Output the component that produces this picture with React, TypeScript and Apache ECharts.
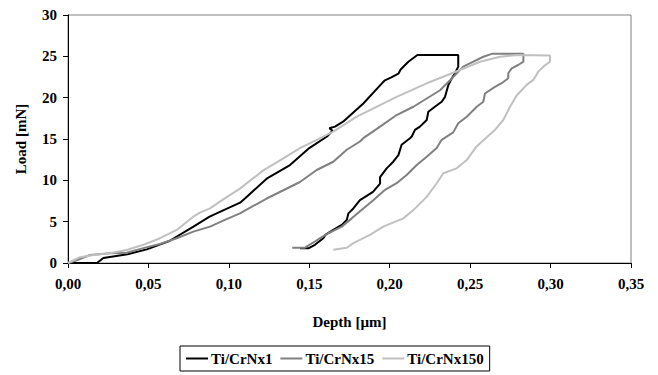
import React, { useEffect, useRef } from "react";
import * as echarts from "echarts";

const seriesNames = ["Ti/CrNx1", "Ti/CrNx15", "Ti/CrNx150"];
const seriesColors = ["#000000", "#808080", "#c0c0c0"];

const depth1 = [0, 0.018, 0.022, 0.025, 0.037, 0.049, 0.063, 0.078, 0.088, 0.107, 0.11, 0.1235, 0.138, 0.15, 0.161, 0.1645, 0.1625, 0.166, 0.171, 0.1836, 0.195, 0.197, 0.201, 0.2054, 0.2068, 0.2116, 0.2172, 0.2426,
  0.2426, 0.2406, 0.2385, 0.2364, 0.2344, 0.2323, 0.2281, 0.224, 0.223, 0.2188, 0.2157, 0.2137, 0.2126, 0.2074, 0.2054, 0.2022, 0.1981, 0.194, 0.194, 0.1896, 0.1815, 0.1774, 0.1743, 0.1733, 0.1702, 0.1649, 0.16, 0.1587, 0.1535, 0.1494, 0.1442];
const load1 = [0, 0, 0.6, 0.7, 1.05, 1.65, 2.66, 4.4, 5.6, 7.3, 7.8, 10.2, 11.85, 13.9, 15.3, 16.0, 16.3, 16.5, 17.1, 19.3, 21.7, 22.1, 22.45, 22.9, 23.4, 24.35, 25.16, 25.16,
  23.75, 22.95, 22.3, 21.5, 20.1, 19.5, 18.9, 18.3, 17.3, 16.5, 16.1, 15.3, 15.1, 14.3, 13.05, 12.25, 11.45, 10.4, 9.6, 8.6, 7.6, 6.6, 6.0, 5.2, 4.6, 4.0, 3.4, 3.0, 2.2, 1.78, 1.78];

const depth15 = [0, 0.005, 0.0137, 0.0261, 0.0365, 0.0468, 0.0572, 0.0676, 0.0779, 0.0883, 0.0986, 0.1069, 0.1235, 0.1339, 0.1442, 0.1546, 0.1649, 0.1733, 0.1815, 0.1836, 0.194, 0.2043, 0.2147, 0.223, 0.2313, 0.2375, 0.2457, 0.252, 0.2582, 0.2634, 0.2831,
  0.2831, 0.2799, 0.2758, 0.2737, 0.2737, 0.2696, 0.2654, 0.2592, 0.2582, 0.2541, 0.2479, 0.2426, 0.2395, 0.2323, 0.2292, 0.223, 0.2168, 0.2105, 0.2043, 0.1971, 0.1898, 0.1836, 0.1764, 0.1702, 0.1618, 0.1567, 0.1535, 0.1473, 0.1394];
const load15 = [0, 0.3, 0.97, 1.17, 1.25, 1.8, 2.3, 3.0, 3.8, 4.4, 5.3, 6.0, 7.8, 8.8, 9.8, 11.25, 12.25, 13.7, 14.7, 15.1, 16.5, 17.9, 18.9, 19.9, 20.9, 22.1, 23.75, 24.35, 24.95, 25.3, 25.3,
  24.35, 23.95, 23.55, 22.95, 22.35, 21.75, 21.3, 20.5, 19.5, 18.9, 17.7, 16.9, 15.8, 14.9, 13.9, 12.85, 11.85, 10.65, 9.65, 8.85, 7.6, 6.6, 5.4, 4.4, 3.6, 3.0, 2.6, 1.85, 1.85];

const depth150 = [0, 0.0075, 0.0157, 0.026, 0.0365, 0.0468, 0.0572, 0.0676, 0.0779, 0.082, 0.0883, 0.0965, 0.1069, 0.1214, 0.1339, 0.1442, 0.1546, 0.1649, 0.1795, 0.1836, 0.2043, 0.225, 0.2437, 0.2561, 0.2686, 0.279, 0.2996,
  0.2996, 0.2955, 0.2924, 0.2893, 0.2851, 0.282, 0.279, 0.2748, 0.2706, 0.2654, 0.2603, 0.254, 0.2479, 0.2416, 0.2333, 0.2292, 0.223, 0.2147, 0.2085, 0.196, 0.1877, 0.1774, 0.1733, 0.1649];
const load150 = [0, 0.7, 0.97, 1.17, 1.57, 2.2, 3.0, 4.0, 5.6, 6.1, 6.6, 7.7, 9.0, 11.2, 12.65, 13.9, 14.9, 15.9, 17.7, 18.1, 20.1, 21.9, 23.35, 24.35, 24.95, 25.16, 25.1,
  24.35, 23.75, 23.15, 22.15, 21.55, 20.9, 20.3, 18.9, 17.3, 16.1, 15.2, 14.1, 12.45, 11.45, 10.85, 9.65, 8.0, 6.4, 5.4, 4.4, 3.4, 2.4, 1.85, 1.6];

const xTicks = [0, 0.05, 0.1, 0.15, 0.2, 0.25, 0.3, 0.35];
const yTicks = [0, 5, 10, 15, 20, 25, 30];

const zip = (a: number[], b: number[]) => a.map((v, i) => [v, b[i]]);

export default function App() {
  const ref = useRef<HTMLDivElement>(null);
  useEffect(() => {
    document.body.style.margin = "0";
    const chart = echarts.init(ref.current!, null, { renderer: "svg" });
    const font = { fontFamily: "'Liberation Serif', 'Times New Roman', serif", fontWeight: "bold" as const, fontSize: 15, color: "#000" };
    const datasets = [zip(depth1, load1), zip(depth15, load15), zip(depth150, load150)];
    chart.setOption({
      animation: false,
      backgroundColor: "#fff",
      grid: { left: 68, top: 15, width: 563, height: 248, show: true, borderColor: "#808080", borderWidth: 1, backgroundColor: "transparent" },
      xAxis: {
        type: "value",
        min: xTicks[0],
        max: xTicks[xTicks.length - 1],
        interval: 0.05,
        name: "Depth [µm]",
        nameLocation: "middle",
        nameGap: 51,
        nameTextStyle: { ...font },
        axisLine: { show: true, lineStyle: { color: "#000", width: 1 } },
        axisTick: { show: true, length: 5, lineStyle: { color: "#000" } },
        axisLabel: { ...font, margin: 13, formatter: (v: number) => v.toFixed(2).replace(".", ",") },
        splitLine: { show: false },
      },
      yAxis: {
        type: "value",
        min: yTicks[0],
        max: yTicks[yTicks.length - 1],
        interval: 5,
        name: "Load [mN]",
        nameLocation: "middle",
        nameGap: 40,
        nameRotate: 90,
        nameTextStyle: { ...font },
        axisLine: { show: true, lineStyle: { color: "#000", width: 1 } },
        axisTick: { show: true, length: 5, lineStyle: { color: "#000" } },
        axisLabel: { ...font, margin: 11 },
        splitLine: { show: false },
      },
      legend: {
        bottom: 4,
        left: 180,
        orient: "horizontal",
        borderColor: "#000",
        borderWidth: 1,
        padding: [5, 6, 5, 6],
        itemGap: 8,
        itemWidth: 22,
        itemHeight: 2,
        icon: "rect",
        textStyle: { ...font, padding: [0, 0, 0, -2] },
        data: seriesNames,
      },
      series: seriesNames.map((n, i) => ({
        name: n,
        type: "line",
        data: datasets[i],
        showSymbol: false,
        symbol: "none",
        lineStyle: { color: seriesColors[i], width: 2 },
        itemStyle: { color: seriesColors[i] },
      })),
    });
    return () => chart.dispose();
  }, []);
  return <div ref={ref} style={{ width: 658, height: 375 }} />;
}
